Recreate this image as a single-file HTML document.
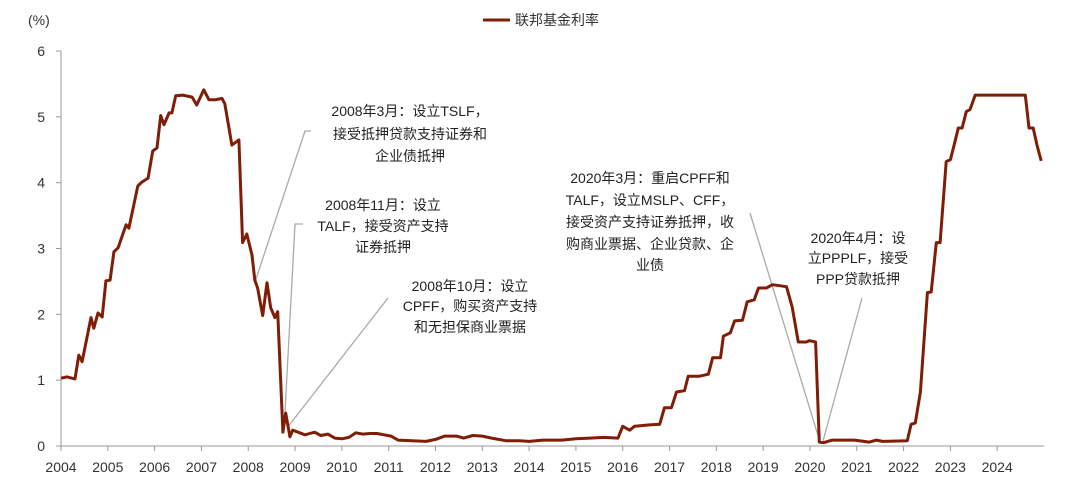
<!DOCTYPE html>
<html><head><meta charset="utf-8">
<style>
html,body{margin:0;padding:0;background:#fff;}
svg{display:block;font-family:"Liberation Sans","Noto Sans CJK SC",sans-serif;}
</style></head>
<body>
<svg id="chart" width="1080" height="481" viewBox="0 0 1080 481" xmlns="http://www.w3.org/2000/svg">
  <text x="28" y="25" font-size="14" fill="#333">(%)</text>
  <g>
    <line x1="483" y1="20" x2="510" y2="20" stroke="#7f1d06" stroke-width="3"/>
    <text x="515" y="25" font-size="14" fill="#333">联邦基金利率</text>
  </g>
  <g id="axes"></g>
  <g id="annots" font-size="14" fill="#222" text-anchor="middle"></g>
  <g id="series"></g>
</svg>
<script>
const yTicks = [0,1,2,3,4,5,6];
const xTickYears = [2004,2005,2006,2007,2008,2009,2010,2011,2012,2013,2014,2015,2016,2017,2018,2019,2020,2021,2022,2023,2024];
const dates = [
2004.0,2004.13,2004.30,2004.38,2004.45,2004.64,2004.70,2004.79,2004.88,2004.96,
2005.05,2005.13,2005.22,2005.39,2005.45,2005.64,2005.73,2005.86,2005.96,2006.05,
2006.13,2006.20,2006.31,2006.37,2006.45,2006.60,2006.80,2006.90,2007.05,2007.16,
2007.31,2007.44,2007.50,2007.65,2007.80,2007.88,2007.97,2008.08,2008.14,2008.20,
2008.31,2008.40,2008.48,2008.57,2008.63,2008.74,2008.80,2008.89,2008.95,2009.10,
2009.21,2009.42,2009.55,2009.70,2009.85,2010.00,2010.15,2010.30,2010.45,2010.60,
2010.75,2010.90,2011.05,2011.20,2011.50,2011.80,2012.00,2012.20,2012.45,2012.60,
2012.80,2013.00,2013.20,2013.50,2013.80,2014.00,2014.30,2014.70,2015.00,2015.30,
2015.60,2015.90,2016.00,2016.15,2016.25,2016.57,2016.79,2016.89,2017.04,2017.15,
2017.32,2017.40,2017.64,2017.83,2017.92,2018.09,2018.15,2018.30,2018.39,2018.56,
2018.66,2018.81,2018.90,2019.07,2019.20,2019.50,2019.62,2019.75,2019.92,2019.99,
2020.12,2020.20,2020.29,2020.48,2020.95,2021.27,2021.42,2021.55,2022.08,2022.16,
2022.25,2022.36,2022.51,2022.59,2022.70,2022.78,2022.91,2023.00,2023.08,2023.17,
2023.25,2023.34,2023.42,2023.53,2024.60,2024.68,2024.77,2024.85,2024.94];
const rates = [
1.03,1.05,1.02,1.38,1.28,1.95,1.79,2.02,1.96,2.51,
2.52,2.95,3.01,3.36,3.31,3.95,4.01,4.07,4.48,4.53,
5.02,4.88,5.06,5.06,5.32,5.33,5.30,5.18,5.41,5.26,
5.26,5.28,5.20,4.57,4.65,3.09,3.22,2.90,2.52,2.40,
1.98,2.48,2.10,1.95,2.04,0.21,0.50,0.14,0.24,0.20,
0.17,0.21,0.16,0.18,0.12,0.11,0.13,0.20,0.18,0.19,
0.19,0.17,0.15,0.09,0.08,0.07,0.10,0.15,0.15,0.12,
0.16,0.15,0.12,0.08,0.08,0.07,0.09,0.09,0.11,0.12,
0.13,0.12,0.30,0.24,0.30,0.32,0.33,0.58,0.58,0.82,
0.84,1.06,1.06,1.09,1.34,1.34,1.67,1.72,1.90,1.91,
2.19,2.22,2.40,2.40,2.45,2.42,2.11,1.58,1.58,1.60,
1.58,0.06,0.05,0.09,0.09,0.06,0.09,0.07,0.08,0.33,
0.35,0.82,2.33,2.34,3.09,3.09,4.32,4.35,4.57,4.83,
4.83,5.08,5.11,5.33,5.33,4.83,4.83,4.57,4.33];

const X0=61, X1=1044, Y0=446, Y1=51;
const xScale = t => X0 + (t-2004)/(2025-2004)*(X1-X0);
const yScale = v => Y0 - v/6*(Y0-Y1);
const NS="http://www.w3.org/2000/svg";
function mk(tag, attrs, parent){const e=document.createElementNS(NS,tag);for(const k in attrs)e.setAttribute(k,attrs[k]);parent.appendChild(e);return e;}

const axes=document.getElementById('axes');
const ya=mk('line',{x1:X0,y1:Y1,x2:X0,y2:Y0,stroke:'#999','stroke-width':1},axes);


const xa=mk('line',{x1:X0,y1:Y0,x2:X1,y2:Y0,stroke:'#999','stroke-width':1},axes);


yTicks.forEach(v=>{
  const y=yScale(v);
  const tk=mk('line',{x1:X0-5,y1:y,x2:X0,y2:y,stroke:'#999'},axes);
  
  
  const t=mk('text',{x:45,y:y+5,'font-size':14,fill:'#333','text-anchor':'end'},axes);
  t.textContent=v;
  
  
});
xTickYears.forEach(yr=>{
  const x=xScale(yr);
  const tk=mk('line',{x1:x,y1:Y0,x2:x,y2:Y0+5,stroke:'#999'},axes);
  
  
  const t=mk('text',{x:x,y:472,'font-size':14,fill:'#333','text-anchor':'middle'},axes);
  t.textContent=yr;
  
  
});

const an=document.getElementById('annots');
const leaders=[
  {pts:'255,282 305,131 311,131',name:'leader-2008-mar'},
  {pts:'284,431 295,224 303,224',name:'leader-2008-nov'},
  {pts:'287,428 388,298',name:'leader-2008-oct'},
  {pts:'750,213 820,442',name:'leader-2020-mar'},
  {pts:'823,441 862,298',name:'leader-2020-apr'}
];
leaders.forEach(l=>{
  const p=mk('polyline',{points:l.pts,fill:'none',stroke:'#aaa','stroke-width':1.3},an);
  
  
});
const notes=[
  {x:410,ys:[116,139,161],lines:['2008年3月：设立TSLF，','接受抵押贷款支持证券和','企业债抵押'],name:'annotation-2008-mar'},
  {x:383,ys:[210,231,252],lines:['2008年11月：设立','TALF，接受资产支持','证券抵押'],name:'annotation-2008-nov'},
  {x:470,ys:[291,311,332],lines:['2008年10月：设立','CPFF，购买资产支持','和无担保商业票据'],name:'annotation-2008-oct'},
  {x:650,ys:[183,205,227,249,270],lines:['2020年3月：重启CPFF和','TALF，设立MSLP、CFF，','接受资产支持证券抵押，收','购商业票据、企业贷款、企','业债'],name:'annotation-2020-mar'},
  {x:858,ys:[243,263,284],lines:['2020年4月：设','立PPPLF，接受','PPP贷款抵押'],name:'annotation-2020-apr'}
];
notes.forEach(n=>{
  const t=mk('text',{x:n.x,y:0},an);
  
  
  n.lines.forEach((s,i)=>{
    const ts=mk('tspan',{x:n.x,y:n.ys[i]},t);
    ts.textContent=s;
  });
});
const s=document.getElementById('series');
const n=Math.min(dates.length,rates.length);
let d='';
for(let i=0;i<n;i++){d+=(i?'L':'M')+xScale(dates[i]).toFixed(1)+','+yScale(rates[i]).toFixed(1)+' ';}
const path=mk('path',{d:d,fill:'none',stroke:'#7f1d06','stroke-width':3,'stroke-linejoin':'round'},s);


</script>
</body></html>
